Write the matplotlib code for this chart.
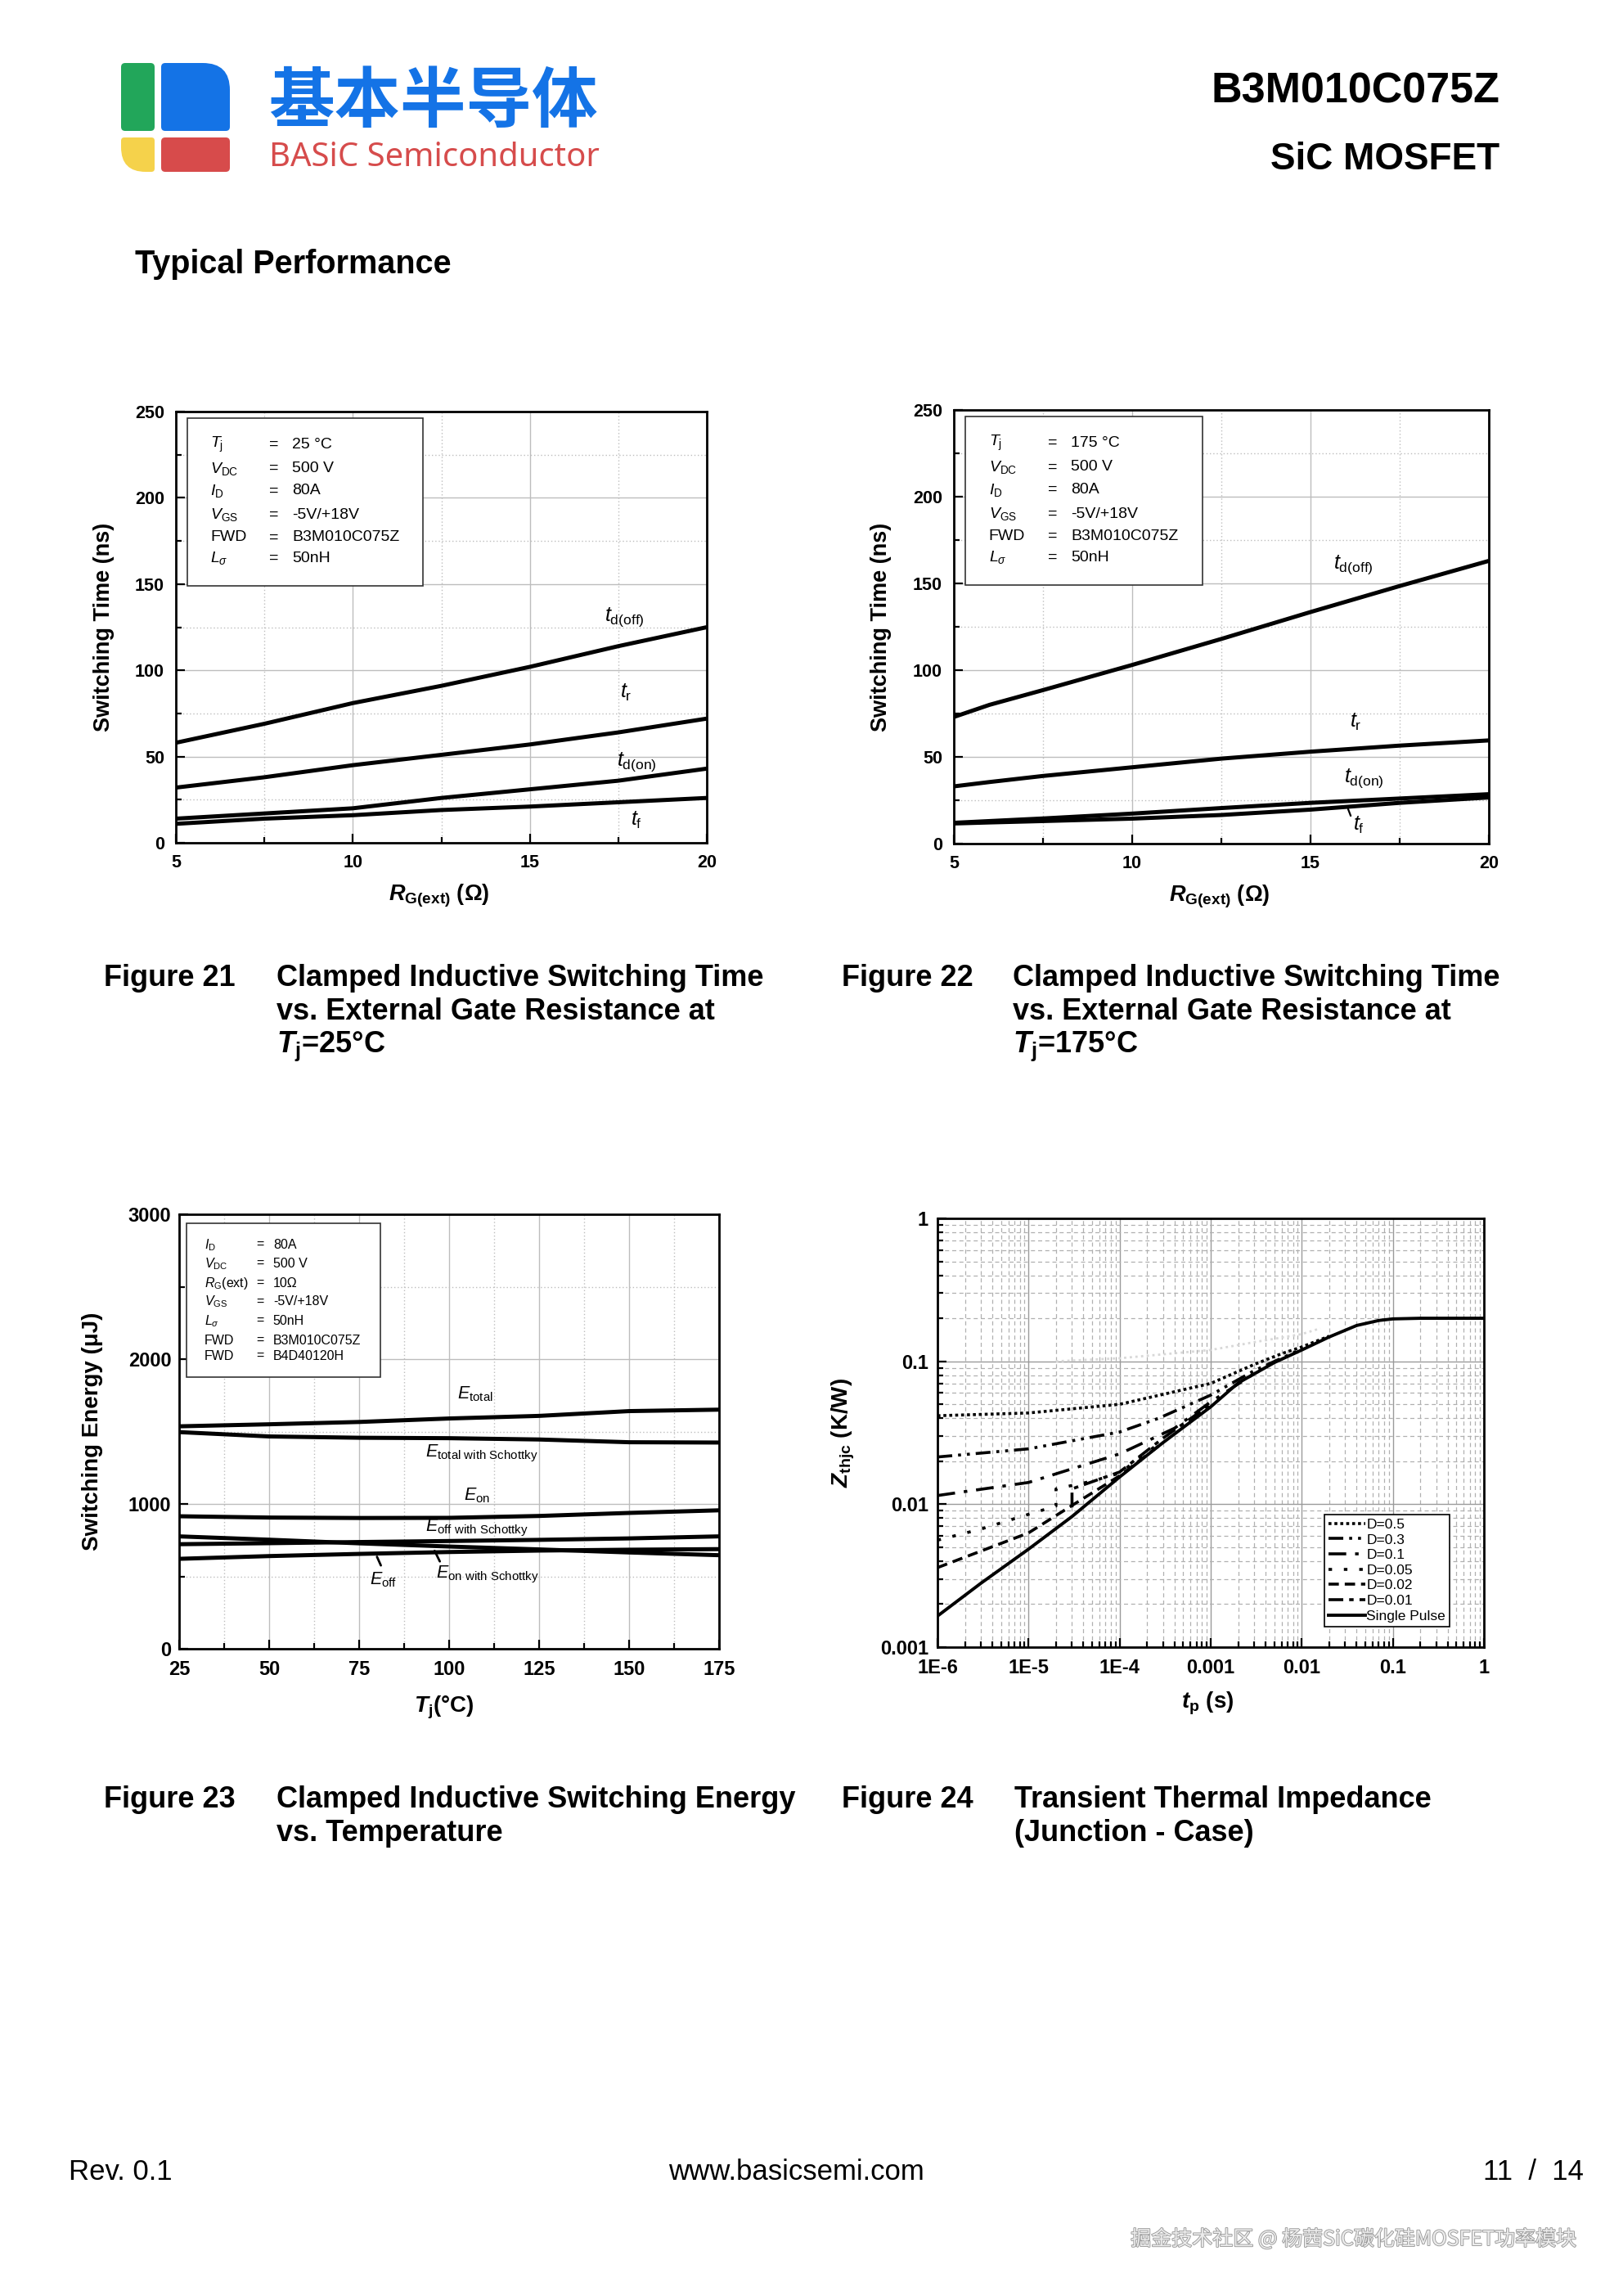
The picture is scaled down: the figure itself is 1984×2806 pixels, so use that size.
import numpy as np
import matplotlib
matplotlib.use('Agg')
import matplotlib.pyplot as plt
from matplotlib.patches import Rectangle, PathPatch
from matplotlib.path import Path
from matplotlib.ticker import MultipleLocator, LogLocator, NullFormatter
import matplotlib.patheffects as pe

plt.rcParams['font.family'] = ['Liberation Sans', 'Noto Sans CJK SC', 'DejaVu Sans']
plt.rcParams['mathtext.fontset'] = 'custom'
plt.rcParams['mathtext.rm'] = 'Liberation Sans'
plt.rcParams['mathtext.it'] = 'Liberation Sans:italic'
plt.rcParams['mathtext.bf'] = 'Liberation Sans:bold'
if 'mathtext.bfit' in plt.rcParams:
    plt.rcParams['mathtext.bfit'] = 'Liberation Sans:italic:bold'

# ---------------- data ----------------
# Figure 21 (Tj = 25 C)
rg21 = [5, 7.5, 10, 12.5, 15, 17.5, 20]
td_off_21 = [58, 69, 81, 91, 102, 114, 125]
tr_21 = [32, 38, 45, 51, 57, 64, 72]
td_on_21 = [14, 17, 20, 26, 31, 36, 43]
tf_21 = [11, 14, 16, 19, 21, 23.5, 26]

# Figure 22 (Tj = 175 C)
rg22 = [5, 6, 7.5, 10, 12.5, 15, 17.5, 20]
td_off_22 = [73, 80, 88.5, 103, 118, 133.5, 148.5, 163]
tr_22 = [33, 35.5, 39, 44, 49, 53, 56.5, 59.5]
td_on_22 = [12, 13, 14.5, 17.3, 20.5, 23.5, 26, 28.5]
tf_22 = [11.6, 12.2, 13, 14.4, 16.5, 19.6, 23.5, 26.6]

# Figure 23 (switching energy vs Tj)
tj23 = [25, 50, 75, 100, 125, 150, 175]
e_total = [1536, 1550, 1566, 1590, 1608, 1641, 1651]
e_total_sch = [1496, 1466, 1457, 1454, 1445, 1426, 1424]
e_on = [915, 906, 903, 904, 917, 938, 956]
e_off_sch = [722, 729, 737, 744, 752, 762, 776]
e_on_sch = [776, 753, 728, 706, 686, 665, 646]
e_off = [621, 640, 655, 668, 678, 684, 688]

# Figure 24 (transient thermal impedance)
t_single = [1e-6, 3e-6, 1e-5, 3e-5, 1e-4, 3e-4, 1e-3, 2e-3, 5e-3, 1e-2, 2e-2, 4e-2, 7e-2, 1e-1, 2e-1, 1]
z_single = [0.00165, 0.0028, 0.00485, 0.0082, 0.0155, 0.027, 0.048, 0.0705, 0.098, 0.12, 0.148, 0.178, 0.193, 0.198, 0.2, 0.2]
t_d05 = [1e-6, 1e-5, 1e-4, 1e-3, 3e-3, 6e-3, 1e-2, 2e-2]
z_d05 = [0.0416, 0.0435, 0.050, 0.070, 0.095, 0.113, 0.126, 0.150]
t_d03 = [1e-6, 1e-5, 1e-4, 2.7e-4, 1e-3, 3e-3, 1e-2]
z_d03 = [0.0214, 0.0244, 0.032, 0.040, 0.058, 0.086, 0.122]
t_d01 = [1e-6, 1e-5, 1e-4, 4e-4, 1e-3, 3e-3]
z_d01 = [0.0115, 0.0142, 0.0225, 0.034, 0.052, 0.082]
t_d005 = [1e-6, 3e-6, 1e-5, 2e-5, 2e-5, 5e-5, 1e-4, 3e-4]
z_d005 = [0.0056, 0.0067, 0.0085, 0.0097, 0.0128, 0.0145, 0.0165, 0.028]
t_d002 = [1e-6, 3e-6, 1e-5, 3e-5, 1e-4, 3e-4]
z_d002 = [0.0036, 0.0047, 0.0063, 0.0098, 0.0158, 0.027]
t_d001 = [3e-5, 3e-5, 1e-4, 3e-4, 1e-3]
z_d001 = [0.0095, 0.0128, 0.0168, 0.029, 0.05]
t_ghost = [2e-5, 1e-4, 1e-3, 3e-3, 1e-2, 1.6e-2]
z_ghost = [0.100, 0.105, 0.120, 0.136, 0.155, 0.170]

x24_ticks = [1e-6, 1e-5, 1e-4, 1e-3, 1e-2, 1e-1, 1]
x24_labels = ['1E-6', '1E-5', '1E-4', '0.001', '0.01', '0.1', '1']
y24_ticks = [1e-3, 1e-2, 1e-1, 1]
y24_labels = ['0.001', '0.01', '0.1', '1']
d_labels = ['D=0.5', 'D=0.3', 'D=0.1', 'D=0.05', 'D=0.02', 'D=0.01', 'Single Pulse']

cond21 = [(r'$\it{T}_\mathrm{j}$', '25 °C'), (r'$\it{V}_\mathrm{DC}$', '500 V'),
          (r'$\it{I}_\mathrm{D}$', '80A'), (r'$\it{V}_\mathrm{GS}$', '-5V/+18V'),
          ('FWD', 'B3M010C075Z'), (r'$\it{L}_\sigma$', '50nH')]
cond22 = [(r'$\it{T}_\mathrm{j}$', '175 °C'), (r'$\it{V}_\mathrm{DC}$', '500 V'),
          (r'$\it{I}_\mathrm{D}$', '80A'), (r'$\it{V}_\mathrm{GS}$', '-5V/+18V'),
          ('FWD', 'B3M010C075Z'), (r'$\it{L}_\sigma$', '50nH')]
cond23 = [(r'$\it{I}_\mathrm{D}$', '80A'), (r'$\it{V}_\mathrm{DC}$', '500 V'),
          (r'$\it{R}_\mathrm{G}$(ext)', '10Ω'), (r'$\it{V}_\mathrm{GS}$', '-5V/+18V'),
          (r'$\it{L}_\sigma$', '50nH'), ('FWD', 'B3M010C075Z'), ('FWD', 'B4D40120H')]

# ---------------- page ----------------
W, H = 1984, 2806
fig = plt.figure(figsize=(W / 100, H / 100), dpi=100)
fig.patch.set_facecolor('white')
page = fig.add_axes([0, 0, 1, 1])
page.set_xlim(0, W)
page.set_ylim(H, 0)
page.axis('off')


def rrect(x0, y0, x1, y1, tl, tr, br, bl, color):
    verts = [(x0 + tl, y0), (x1 - tr, y0), (x1, y0), (x1, y0 + tr), (x1, y1 - br),
             (x1, y1), (x1 - br, y1), (x0 + bl, y1), (x0, y1), (x0, y1 - bl),
             (x0, y0 + tl), (x0, y0), (x0 + tl, y0), (x0 + tl, y0)]
    codes = [Path.MOVETO, Path.LINETO, Path.CURVE3, Path.CURVE3, Path.LINETO,
             Path.CURVE3, Path.CURVE3, Path.LINETO, Path.CURVE3, Path.CURVE3,
             Path.LINETO, Path.CURVE3, Path.CURVE3, Path.CLOSEPOLY]
    page.add_patch(PathPatch(Path(verts, codes), facecolor=color, edgecolor='none'))


rrect(148, 77, 189, 160, 5, 5, 5, 5, '#22a65a')
rrect(197, 77, 281, 160, 5, 33, 5, 5, '#1473e6')
rrect(148, 168, 189, 210, 4, 4, 4, 30, '#f5d24b')
rrect(197, 168, 281, 210, 5, 5, 5, 5, '#d74b4b')
page.text(529, 149, '基本半导体', fontsize=58, fontweight='bold', color='#1473e6',
          ha='center', va='baseline', family=['Noto Sans CJK SC', 'DejaVu Sans'])
page.text(329, 203, 'BASiC Semiconductor', fontsize=28.8, color='#d64c4c',
          ha='left', va='baseline', family=['Noto Sans', 'DejaVu Sans'])
page.text(1833, 125, 'B3M010C075Z', fontsize=37.5, fontweight='bold', ha='right', va='baseline')
page.text(1833, 207, 'SiC MOSFET', fontsize=33, fontweight='bold', ha='right', va='baseline')
page.text(165, 334, 'Typical Performance', fontsize=28.5, fontweight='bold', va='baseline')


def caption(xn, xt, y0, num, lines):
    page.text(xn, y0, num, fontsize=26, fontweight='bold', va='baseline')
    for i, ln in enumerate(lines):
        page.text(xt, y0 + i * 40.5, ln, fontsize=26, fontweight='bold', va='baseline')


caption(127, 338, 1205, 'Figure 21', ['Clamped Inductive Switching Time',
                                       'vs. External Gate Resistance at',
                                       r'$\mathbfit{T}_\mathbf{j}$=25°C'])
caption(1029, 1238, 1205, 'Figure 22', ['Clamped Inductive Switching Time',
                                        'vs. External Gate Resistance at',
                                        r'$\mathbfit{T}_\mathbf{j}$=175°C'])
caption(127, 338, 2209, 'Figure 23', ['Clamped Inductive Switching Energy', 'vs. Temperature'])
caption(1029, 1240, 2209, 'Figure 24', ['Transient Thermal Impedance', '(Junction - Case)'])

page.text(84, 2664, 'Rev. 0.1', fontsize=25, va='baseline')
page.text(973, 2664, 'www.basicsemi.com', fontsize=25, va='baseline', ha='center')
page.text(1936, 2664, '11  /  14', fontsize=25, va='baseline', ha='right')
page.text(1927, 2744, '掘金技术社区 @ 杨茜SiC碳化硅MOSFET功率模块', fontsize=18, va='baseline',
          ha='right', color='#ececec', family=['Noto Sans CJK SC', 'DejaVu Sans'],
          path_effects=[pe.withStroke(linewidth=1.3, foreground='#9a9a9a')])


def pos(l, t, r, b):
    return [l / W, 1 - b / H, (r - l) / W, (b - t) / H]


def style_axes(ax, tick_fs):
    for s in ax.spines.values():
        s.set_linewidth(2.0)
    ax.tick_params(which='both', direction='in', top=False, right=False, width=1.6)
    ax.tick_params(which='major', length=8, pad=10, labelsize=tick_fs)
    ax.tick_params(which='minor', length=5)
    ax.set_axisbelow(True)


LW = 3.6
GRID = '#bdbdbd'


def switching_axes(rect, rg, td_off, tr, td_on, tf, cond, labels, leader=None):
    ax = fig.add_axes(pos(*rect))
    ax.plot(rg, td_off, color='black', lw=LW, solid_capstyle='butt')
    ax.plot(rg, tr, color='black', lw=LW, solid_capstyle='butt')
    ax.plot(rg, td_on, color='black', lw=LW, solid_capstyle='butt')
    ax.plot(rg, tf, color='black', lw=LW, solid_capstyle='butt')
    ax.set_xlim(5, 20)
    ax.set_ylim(0, 250)
    ax.xaxis.set_minor_locator(MultipleLocator(2.5))
    ax.yaxis.set_minor_locator(MultipleLocator(25))
    ax.set_xticks([5, 10, 15, 20], ['5', '10', '15', '20'], fontweight='bold')
    ax.set_yticks([0, 50, 100, 150, 200, 250], ['0', '50', '100', '150', '200', '250'], fontweight='bold')
    style_axes(ax, 15.5)
    ax.grid(which='major', color=GRID, lw=1.0, ls='-')
    ax.grid(which='minor', color=GRID, lw=1.0, ls=(0, (1, 2)))
    ax.set_xlabel(r'$\mathbfit{R}_\mathbf{G(ext)}$ (Ω)', fontsize=19.5, fontweight='bold')
    ax.set_ylabel('Switching Time (ns)', fontsize=19.5, fontweight='bold')
    ax.xaxis.label.set_va('center')
    ax.yaxis.label.set_va('center')
    ax.xaxis.set_label_coords(0.496, -0.123)
    ax.yaxis.set_label_coords(-0.136, 0.5)
    # conditions box
    ax.add_patch(Rectangle((0.021, 0.596), 0.444, 0.388, transform=ax.transAxes,
                           facecolor='white', edgecolor='#333333', lw=1.2, zorder=3))
    rows_y = [231, 217, 204, 190, 177, 165]
    for (sym, val), yy in zip(cond, rows_y):
        ax.text(5.98, yy, sym, fontsize=14, va='center', zorder=4)
        ax.text(7.76, yy, '=', fontsize=14, va='center', ha='center', zorder=4)
        ax.text(8.28, yy, val, fontsize=14, va='center', zorder=4)
    for (txt, x, y) in labels:
        ax.text(x, y, txt, fontsize=18, va='center')
    if leader is not None:
        ax.annotate('', xy=leader[1], xytext=leader[0],
                    arrowprops=dict(arrowstyle='-', lw=1.6, color='black'))
    return ax


switching_axes((215, 503, 864, 1030), rg21, td_off_21, tr_21, td_on_21, tf_21, cond21,
               [(r'$\it{t}_\mathrm{d(off)}$', 17.1, 131), (r'$\it{t}_\mathrm{r}$', 17.55, 87),
                (r'$\it{t}_\mathrm{d(on)}$', 17.45, 47), (r'$\it{t}_\mathrm{f}$', 17.85, 13)])
switching_axes((1166, 501, 1820, 1031), rg22, td_off_22, tr_22, td_on_22, tf_22, cond22,
               [(r'$\it{t}_\mathrm{d(off)}$', 15.65, 161), (r'$\it{t}_\mathrm{r}$', 16.1, 70),
                (r'$\it{t}_\mathrm{d(on)}$', 15.95, 37.5), (r'$\it{t}_\mathrm{f}$', 16.2, 10.5)],
               leader=((16.03, 21.2), (16.15, 14.8)))

# ---------------- Figure 23 ----------------
ax3 = fig.add_axes(pos(219, 1484, 879, 2015))
for series in (e_total, e_total_sch, e_on, e_off_sch, e_on_sch, e_off):
    ax3.plot(tj23, series, color='black', lw=LW, solid_capstyle='butt')
ax3.set_xlim(25, 175)
ax3.set_ylim(0, 3000)
ax3.xaxis.set_minor_locator(MultipleLocator(12.5))
ax3.yaxis.set_minor_locator(MultipleLocator(500))
ax3.set_xticks(tj23, [str(v) for v in tj23], fontweight='bold')
ax3.set_yticks([0, 1000, 2000, 3000], ['0', '1000', '2000', '3000'], fontweight='bold')
style_axes(ax3, 17)
ax3.tick_params(axis='y', which='major', pad=7)
ax3.grid(which='major', color=GRID, lw=1.0, ls='-')
ax3.grid(which='minor', color=GRID, lw=1.0, ls=(0, (1, 2)))
ax3.set_xlabel(r'$\mathbfit{T}_\mathbf{j}$(°C)', fontsize=20, fontweight='bold')
ax3.set_ylabel('Switching Energy (μJ)', fontsize=20, fontweight='bold')
ax3.xaxis.label.set_va('center')
ax3.yaxis.label.set_va('center')
ax3.xaxis.set_label_coords(0.49, -0.136)
ax3.yaxis.set_label_coords(-0.16, 0.5)
ax3.add_patch(Rectangle((0.014, 0.626), 0.359, 0.354, transform=ax3.transAxes,
                        facecolor='white', edgecolor='#333333', lw=1.2, zorder=3))
rows23 = [2789, 2660, 2525, 2396, 2261, 2128, 2018]
for (sym, val), yy in zip(cond23, rows23):
    ax3.text(32.1, yy, sym, fontsize=11.5, va='center', zorder=4)
    ax3.text(47.4, yy, '=', fontsize=11.5, va='center', ha='center', zorder=4)
    ax3.text(51.1, yy, val, fontsize=11.5, va='center', zorder=4)
for txt, x, y in [(r'$\it{E}_\mathrm{total}$', 102.3, 1760),
                  (r'$\it{E}_\mathrm{total\ with\ Schottky}$', 93.3, 1350),
                  (r'$\it{E}_\mathrm{on}$', 104, 1058),
                  (r'$\it{E}_\mathrm{off\ with\ Schottky}$', 93.3, 836),
                  (r'$\it{E}_\mathrm{off}$', 78.0, 475),
                  (r'$\it{E}_\mathrm{on\ with\ Schottky}$', 96.3, 510)]:
    ax3.text(x, y, txt, fontsize=15.5, va='center')
ax3.annotate('', xy=(81.3, 561), xytext=(79.7, 650), arrowprops=dict(arrowstyle='-', lw=2, color='black'))
ax3.annotate('', xy=(97.7, 589), xytext=(95.7, 690), arrowprops=dict(arrowstyle='-', lw=2, color='black'))

# ---------------- Figure 24 ----------------
ax4 = fig.add_axes(pos(1146, 1489, 1814, 2013))
ax4.set_xscale('log')
ax4.set_yscale('log')
ax4.plot(t_ghost, z_ghost, color='#d8d8d8', lw=2.0, ls=(0, (1, 1.5)))
lw4 = 2.6
styles = [(0, (1, 1)), (0, (5, 2, 1, 2, 1, 2)), (0, (6, 3, 1.2, 3)), (0, (1.2, 4)),
          (0, (3.5, 2)), (0, (5, 2, 1.5, 2)), '-']
series24 = [(t_d05, z_d05), (t_d03, z_d03), (t_d01, z_d01), (t_d005, z_d005),
            (t_d002, z_d002), (t_d001, z_d001), (t_single, z_single)]
for (tt, zz), ls, lab in zip(series24, styles, d_labels):
    ax4.plot(tt, zz, color='black', lw=lw4 if ls != '-' else 2.8, ls=ls, label=lab,
             dash_capstyle='butt')
ax4.set_xlim(1e-6, 1)
ax4.set_ylim(1e-3, 1)
ax4.xaxis.set_minor_locator(LogLocator(base=10, subs=np.arange(2, 10), numticks=100))
ax4.yaxis.set_minor_locator(LogLocator(base=10, subs=np.arange(2, 10), numticks=100))
ax4.xaxis.set_minor_formatter(NullFormatter())
ax4.yaxis.set_minor_formatter(NullFormatter())
ax4.set_xticks(x24_ticks, x24_labels, fontweight='bold')
ax4.set_yticks(y24_ticks, y24_labels, fontweight='bold')
style_axes(ax4, 17)
ax4.tick_params(axis='y', which='major', pad=8)
ax4.grid(which='major', color='#9a9a9a', lw=1.0, ls='-')
ax4.grid(which='minor', color='#b0b0b0', lw=0.9, ls=(0, (4, 3)))
ax4.set_xlabel(r'$\mathbfit{t}_\mathbf{p}$ (s)', fontsize=20, fontweight='bold')
ax4.set_ylabel(r'$\mathbfit{Z}_\mathbf{thjc}$ (K/W)', fontsize=20, fontweight='bold')
ax4.xaxis.label.set_va('center')
ax4.yaxis.label.set_va('center')
ax4.xaxis.set_label_coords(0.495, -0.132)
ax4.yaxis.set_label_coords(-0.172, 0.5)
leg = ax4.legend(loc='lower left', bbox_to_anchor=(0.708, 0.048), fontsize=12.5,
                 handlelength=2.6, handletextpad=0.05, labelspacing=0.2, borderpad=0.3,
                 frameon=True, fancybox=False, edgecolor='black', framealpha=1,
                 borderaxespad=0)
leg.get_frame().set_linewidth(1.2)

fig.savefig('out.png', dpi=100, facecolor='white')
